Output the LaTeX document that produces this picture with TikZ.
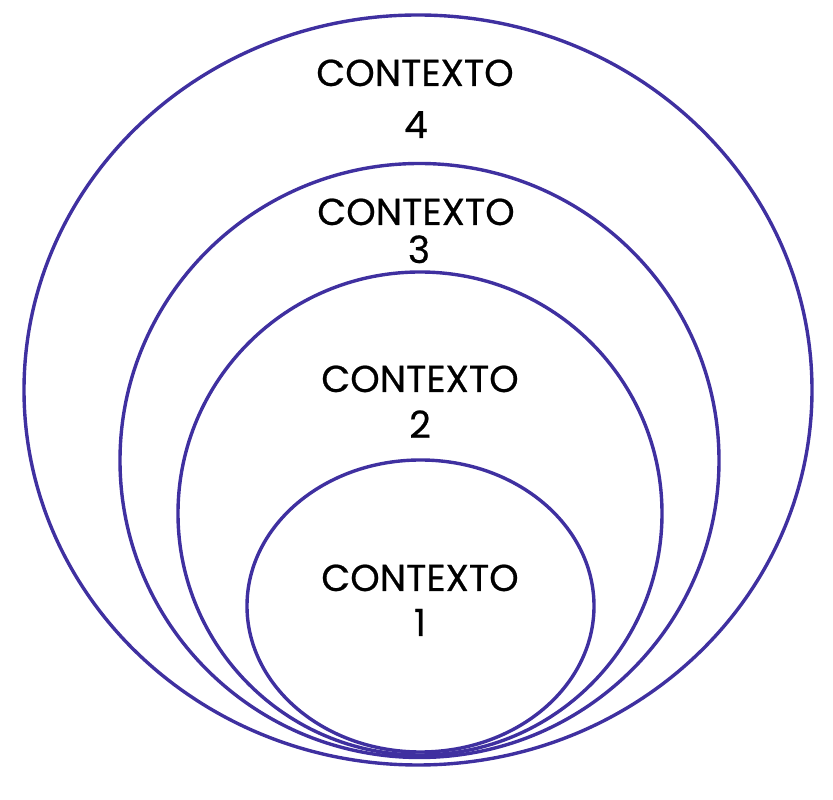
\documentclass[tikz,border=0pt]{standalone}
\usepackage{fontspec}
\setmainfont{Poppins}[FakeBold=0.6]
\begin{document}
\begin{tikzpicture}[x=1pt,y=1pt,
  ring/.style={draw=ringcol,line width=3.4pt},
  lbl/.style={anchor=base,inner sep=0pt,font=\fontsize{37.5}{44}\selectfont}]
\definecolor{ringcol}{HTML}{3F30A0}
\useasboundingbox (0,0) rectangle (833,800);
\draw[ring] (418,410) ellipse [x radius=394, y radius=375];
\draw[ring] (419.5,339.5) ellipse [x radius=299.5, y radius=297];
\draw[ring] (420,286.5) ellipse [x radius=242, y radius=241.5];
\draw[ring] (420.5,194) ellipse [x radius=173.5, y radius=146];
\node[lbl] (c4) at (415,714) {CONTEXTO};
\node[lbl] (n4) at (416,662) {4};
\node[lbl] (c3) at (416,575) {CONTEXTO};
\node[lbl] (n3) at (419,537) {3};
\node[lbl] (c2) at (420,408) {CONTEXTO};
\node[lbl] (n2) at (420,362) {2};
\node[lbl] (c1) at (420,209) {CONTEXTO};
\node[lbl] (n1) at (420,164) {1};
\end{tikzpicture}
\end{document}
